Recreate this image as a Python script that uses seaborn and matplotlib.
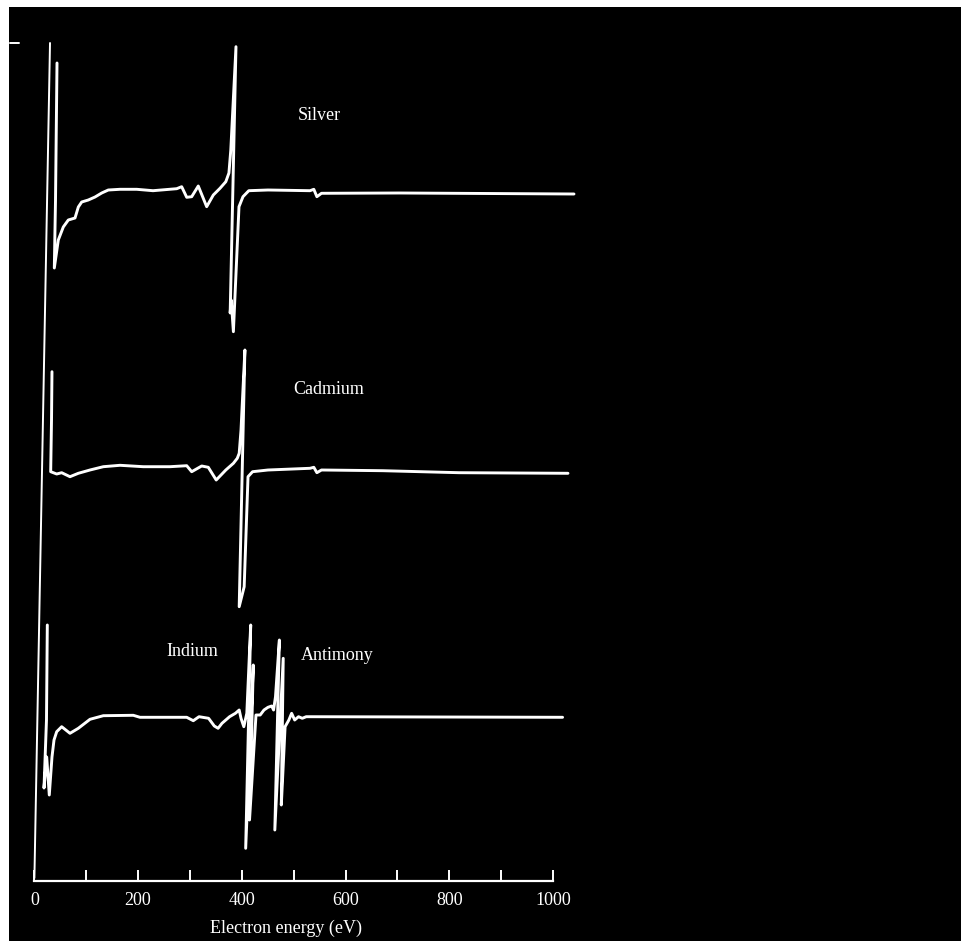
import numpy as np
import pandas as pd
import seaborn as sns
import matplotlib
matplotlib.use("Agg")
import matplotlib.pyplot as plt
from matplotlib.lines import Line2D
from matplotlib.patches import Rectangle
from matplotlib.ticker import FixedLocator

# Auger derivative spectra dN/dE (arbitrary units) versus electron energy (eV)
silver_energy = [43.6, 40.7, 38.4, 46.1, 55.7, 65.4, 78.3, 84.7, 91.2, 103.9, 116.9, 129.8,
                 142.5, 165.1, 197.3, 228.7, 274.4, 284.0, 293.7, 303.3, 316.0, 332.2,
                 345.0, 357.9, 369.1, 375.1, 378.7, 388.7, 377.5, 379.5, 383.7, 394.5,
                 402.2, 413.4, 450.4, 531.4, 538.8, 544.7, 553.6, 704.9, 1040.5]
silver_signal = [127, -10, -78, -50, -37, -30, -28, -17, -12, -10, -7, -3,
                 0, 0.7, 0.7, -0.7, 1.3, 3.3, -7.3, -6.7, 4, -16.7,
                 -5, 1.7, 8.3, 17, 40, 143.3, -123, -110, -141.7, -16.7,
                 -6.7, -0.7, 0, -0.7, 0.7, -6.7, -3.3, -3, -4]

cadmium_energy = [33.9, 33.0, 31.4, 43.0, 52.6, 68.6, 84.7, 107.2, 132.9, 165.1, 210.0,
                  261.5, 293.7, 303.3, 322.6, 335.3, 350.6, 369.1, 383.7, 391.2, 394.9,
                  398.4, 405.9, 394.9, 404.5, 411.9, 420.7, 450.4, 531.4, 538.8, 544.7,
                  553.6, 671.6, 818.7, 1028.9]
cadmium_signal = [95.3, 47, -4.7, -7, -5.7, -9.7, -6.3, -3, 0.3, 1.7, 0.3,
                  0.3, 1.3, -4.7, 1, -0.3, -13, -3, 3.7, 8.7, 13.7,
                  37, 117, -139.7, -119.7, -9.7, -4.7, -3, -1.3, -0.3, -5.7,
                  -3, -3.7, -5.7, -6.3]

indium_energy = [24.9, 23.3, 18.5, 23.7, 28.7, 33.9, 37.8, 43.0, 52.6, 68.6, 84.7, 107.2,
                 132.9, 190.7, 203.6, 293.7, 306.4, 317.4, 335.9, 346.9, 354.2, 361.7,
                 376.4, 387.6, 394.9, 398.4, 403.8, 409.6, 417.1, 407.4, 422.1, 414.8,
                 427.3, 435.4, 442.7, 450.4, 457.6, 461.2, 464.9, 472.4, 463.6, 479.8,
                 476.1, 483.4, 490.7, 496.0, 501.9, 509.3, 516.6, 524.1, 1018.5]
indium_signal = [92, -3, -71, -40, -78, -40, -23, -14.7, -9.7, -16.3, -11.3, -2.3,
                 1.3, 1.7, -0.3, -0.3, -3.7, 0.3, -1.3, -9, -11.3, -6.3,
                 0.3, 3.7, 7, -1.3, -9.7, 3.7, 92, -131.3, 52, -103,
                 2, 2, 7, 9.7, 11, 7, 20.3, 77, -113, 58.7,
                 -88, -9.7, -3, 3.7, -3, 0.3, -1.3, 0.3, -0.3]

spectra = ["Silver", "Cadmium", "Indium-Antimony"]
x_ticks = [0, 200, 400, 600, 800, 1000]
x_minor_ticks = [100, 300, 500, 700, 900]
x_label = "Electron energy (eV)"

# vertical stacking of the three recordings
stack_offset = {"Silver": 691, "Cadmium": 414, "Indium-Antimony": 164}

frames = []
for name, e, s in zip(spectra,
                      [silver_energy, cadmium_energy, indium_energy],
                      [silver_signal, cadmium_signal, indium_signal]):
    frames.append(pd.DataFrame({
        "energy": e,
        "dNdE": np.asarray(s) + stack_offset[name],
        "spectrum": name,
        "step": np.arange(len(e)),
    }))
df = pd.concat(frames, ignore_index=True)

sns.set_theme(style="dark")
plt.rcParams["font.family"] = ["Liberation Serif", "DejaVu Serif"]

W, H = 962, 941
fig = plt.figure(figsize=(W / 100, H / 100), dpi=100, facecolor="black",
                 edgecolor="black")
fig.patch.set_linewidth(0)

px_per_ev = 0.5186
x0_px = 34.4
xlim = (-10, 1100)
ylim = (-5, 875)
axis_px = 881
left_px = x0_px + xlim[0] * px_per_ev
right_px = x0_px + xlim[1] * px_per_ev
bottom_px = axis_px - ylim[0]
top_px = axis_px - ylim[1]
ax = fig.add_axes([left_px / W, (H - bottom_px) / H,
                   (right_px - left_px) / W, (bottom_px - top_px) / H])
ax.set_facecolor("black")

sns.lineplot(data=df, x="energy", y="dNdE", units="spectrum", estimator=None,
             sort=False, color="white", linewidth=2.1, ax=ax, legend=False,
             solid_joinstyle="round", solid_capstyle="round")

ax.set_xlim(*xlim)
ax.set_ylim(*ylim)
ax.grid(False)
for side in ["left", "top", "right"]:
    ax.spines[side].set_visible(False)
ax.spines["bottom"].set_visible(True)
ax.spines["bottom"].set_color("white")
ax.spines["bottom"].set_linewidth(1.6)
ax.spines["bottom"].set_position(("data", 0))
ax.spines["bottom"].set_bounds(0, 1000)
ax.set_yticks([])

ax.set_xticks(x_ticks)
ax.set_xticklabels([str(t) for t in x_ticks])
ax.xaxis.set_minor_locator(FixedLocator(x_minor_ticks))
ax.tick_params(axis="x", which="both", direction="in", length=8, width=1.4,
               color="white", labelcolor="white", labelsize=13, pad=8, bottom=True)
ax.set_xlabel("")
ax.set_ylabel("")
ax.text(485, -47, x_label, color="white", fontsize=13, ha="center", va="center",
        clip_on=False)

# ordinate line, drawn leaning as on the recorder chart
ax.add_line(Line2D([30.1, 0], [838, 3], color="white", linewidth=1.4,
                   clip_on=False))

# element labels
label_kw = dict(color="white", fontsize=13, ha="left", va="center")
ax.text(506.9, 766, "Silver", **label_kw)
ax.text(498.7, 491, "Cadmium", **label_kw)
ax.text(253.8, 229, "Indium", **label_kw)
ax.text(514.1, 226, "Antimony", **label_kw)

# paper margin and the small reference mark at the top left
fig.add_artist(Rectangle((0, 1 - 7 / H), 1, 7 / H, transform=fig.transFigure,
                         facecolor="white", edgecolor="none"))
fig.add_artist(Rectangle((0, 0), 9 / W, 1, transform=fig.transFigure,
                         facecolor="white", edgecolor="none"))
fig.add_artist(Line2D([10 / W, 19 / W], [1 - 43 / H, 1 - 43 / H],
                      transform=fig.transFigure, color="white", linewidth=1.4))

fig.savefig("out.png", dpi=100, facecolor="black", edgecolor="black")
